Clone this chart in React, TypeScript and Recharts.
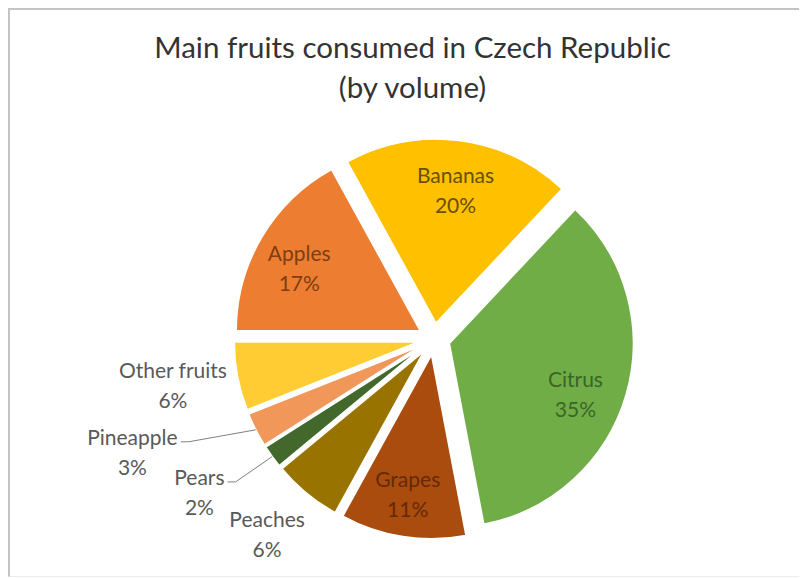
import { PieChart, Pie, Cell, Sector } from "recharts";

const FRUITS = ["Citrus", "Grapes", "Peaches", "Pears", "Pineapple", "Other fruits", "Apples", "Bananas"];
const SHARES = [35, 11, 6, 2, 3, 6, 17, 20];
const COLORS = ["#70AD47", "#A94C0E", "#997300", "#43682B", "#F1975A", "#FFCD33", "#ED7D31", "#FFC000"];

const TITLE = ["Main fruits consumed in Czech Republic", "(by volume)"];

// labels drawn inside their slice: text colour, radius as a share of R, clockwise nudge in degrees
const INSIDE: Record<string, { color: string; r: number; shift: number }> = {
  Citrus: { color: "#3b6526", r: 0.737, shift: 5.4 },
  Grapes: { color: "#642a05", r: 0.767, shift: 0.7 },
  Apples: { color: "#7f3d10", r: 0.741, shift: -3.1 },
  Bananas: { color: "#675000", r: 0.735, shift: 1.1 },
};

// labels drawn outside, measured from the pie centre
const OUTSIDE: Record<string, { r: number; shift: number; line?: boolean }> = {
  "Other fruits": { r: 1.44, shift: 1.0 },
  Pineapple: { r: 1.75, shift: 6.5, line: true },
  Pears: { r: 1.522, shift: 2.9, line: true },
  Peaches: { r: 1.391, shift: 1.1 },
};

const data = FRUITS.map((name, i) => ({ name, value: SHARES[i] }));

const RAD = Math.PI / 180;
const EXPLODE = 16;
const R = 184;
const FONT = "Lato, 'Open Sans', sans-serif";
const FS = 21;
const LINE_GAP = 30;

function polar(cx: number, cy: number, r: number, angle: number) {
  return { x: cx + r * Math.cos(-angle * RAD), y: cy + r * Math.sin(-angle * RAD) };
}

function ExplodedSector(props: any) {
  const c = polar(props.cx, props.cy, EXPLODE, props.midAngle);
  return <Sector {...props} cx={c.x} cy={c.y} />;
}

function twoLines(x: number, y: number, a: string, b: string, fill: string) {
  return (
    <>
      <text x={x} y={y - LINE_GAP / 2} textAnchor="middle" dominantBaseline="central" fontSize={FS} fontFamily={FONT} fill={fill}>{a}</text>
      <text x={x} y={y + LINE_GAP / 2} textAnchor="middle" dominantBaseline="central" fontSize={FS} fontFamily={FONT} fill={fill}>{b}</text>
    </>
  );
}

function renderLabel(p: any) {
  const { cx, cy, midAngle, outerRadius } = p;
  const name: string = p.name ?? p.payload?.name;
  const value: number = p.value ?? p.payload?.value;
  const inner = INSIDE[name];
  if (inner) {
    const c = polar(cx, cy, EXPLODE, midAngle);
    const pt = polar(c.x, c.y, outerRadius * inner.r, midAngle - inner.shift);
    return <g key={name}>{twoLines(pt.x, pt.y, name, `${value}%`, inner.color)}</g>;
  }
  const out = OUTSIDE[name];
  const pt = polar(cx, cy, outerRadius * out.r, midAngle - out.shift);
  let line = null;
  if (out.line) {
    const c = polar(cx, cy, EXPLODE, midAngle);
    const edge = polar(c.x, c.y, outerRadius, midAngle);
    const sx = pt.x + name.length * FS * 0.24 + 3;
    const sy = pt.y - LINE_GAP / 2 + 5;
    line = <polyline points={`${sx},${sy} ${sx + 8},${sy} ${edge.x},${edge.y}`} fill="none" stroke="#7f7f7f" strokeWidth={1} />;
  }
  return (
    <g key={name}>
      {line}
      {twoLines(pt.x, pt.y, name, `${value}%`, "#595959")}
    </g>
  );
}

export default function App() {
  return (
    <div style={{
      position: "relative", width: 799, height: 569, boxSizing: "border-box",
      borderTop: "2px solid #c4c4c4", borderLeft: "2px solid #c4c4c4", borderBottom: "1px solid #ececec",
      background: "#fff",
    }}>
      <div style={{
        position: "absolute", left: 0, top: 17, width: 805, textAlign: "center",
        fontFamily: FONT, fontSize: 29.5, lineHeight: "40px", color: "#333333",
      }}>
        {TITLE.map((t) => <div key={t}>{t}</div>)}
      </div>
      <PieChart width={797} height={566}>
        <Pie
          data={data}
          dataKey="value"
          nameKey="name"
          cx={419}
          cy={324}
          outerRadius={R}
          startAngle={46.8}
          endAngle={-313.2}
          stroke="#ffffff"
          strokeWidth={1.5}
          shape={ExplodedSector}
          label={renderLabel}
          labelLine={false}
          isAnimationActive={false}
        >
          {data.map((d, i) => <Cell key={d.name} fill={COLORS[i]} />)}
        </Pie>
      </PieChart>
    </div>
  );
}
